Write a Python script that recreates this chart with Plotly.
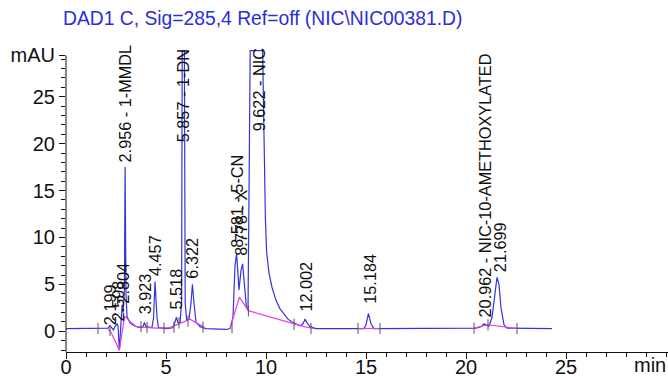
import plotly.graph_objects as go

# ---- data ----
time_min = [0.0, 1.9, 2.1, 2.2, 2.3, 2.37, 2.45, 2.55, 2.6, 2.67, 2.75, 2.8, 2.86, 2.92, 2.956,
            3.0, 3.05, 3.2, 3.4, 3.7, 3.85, 3.92, 4.0, 4.3, 4.38, 4.45, 4.55, 4.62, 5.0,
            5.35, 5.45, 5.52, 5.6, 5.7, 5.78, 5.81, 5.92, 5.96, 6.03, 6.15, 6.25, 6.32,
            6.4, 6.5, 6.7, 7.0, 8.0, 8.2, 8.35, 8.45, 8.53, 8.6, 8.65, 8.75, 8.83, 8.92,
            9.02, 9.1, 9.16, 9.21, 9.83, 9.9, 9.97, 10.03, 10.15, 10.3, 10.5, 10.7, 10.9,
            11.1, 11.3, 11.5, 11.7, 11.85, 11.95, 12.05, 12.2, 12.5, 14.9, 15.0, 15.12,
            15.25, 15.4, 20.5, 20.75, 20.9, 21.0, 21.15, 21.3, 21.45, 21.55, 21.65, 21.75,
            21.9, 22.05, 24.3]
signal_mau = [0.3, 0.3, 0.35, 0.6, 0.3, 0.15, 0.5, 0.8, 0.6, -2.0, 1.0, 2.6, 2.0, 4.5, 17.5,
              4.0, 1.6, 0.9, 0.6, 0.4, 0.5, 0.95, 0.5, 0.4, 1.5, 5.3, 1.5, 0.4, 0.3,
              0.4, 1.0, 1.5, 0.9, 0.9, 3.0, 29.9, 29.9, 3.0, 1.2, 1.3, 3.0, 5.0,
              3.0, 1.0, 0.5, 0.3, 0.2, 0.3, 1.5, 7.0, 8.3, 6.0, 4.4, 6.5, 7.2, 5.0,
              2.6, 2.2, 15.0, 29.9, 29.9, 20.0, 12.0, 8.5, 6.2, 4.7, 3.3, 2.4, 1.8,
              1.3, 1.0, 0.8, 0.6, 0.8, 1.3, 0.9, 0.5, 0.3, 0.3, 0.7, 1.9,
              0.8, 0.3, 0.35, 0.5, 0.8, 0.7, 0.55, 1.5, 4.5, 5.75, 5.0, 2.5,
              0.7, 0.35, 0.3]

baseline_time = [2.1, 2.25, 2.67, 2.93, 3.5, 4.5, 5.2, 6.2, 6.9, None,
                 8.2, 8.67, 9.12, 11.4, 11.9, 12.4, None,
                 14.6, 15.7, None,
                 20.4, 21.1, 22.5]
baseline_mau = [0.3, -0.1, -2.0, 1.6, 0.5, 0.35, 0.4, 1.3, 0.45, None,
                0.3, 3.65, 2.2, 0.75, 0.5, 0.3, None,
                0.3, 0.3, None,
                0.35, 0.7, 0.3]

peak_rt = [2.199, 2.598, 2.804, 2.956, 3.923, 4.457, 5.518, 5.857, 6.322,
           8.581, 8.778, 9.622, 12.002, 15.184, 20.962, 21.699]
peak_name = ["", "", "", "1-MMDL", "", "", "", "1-DN", "",
             "5-CN", "X", "NIC", "", "", "NIC-10-AMETHOXYLATED", ""]
label_mau = [0.6, 1.0, 2.8, 17.9, 1.7, 5.75, 2.2, 20.0, 5.5,
             8.8, 7.9, 21.2, 2.0, 2.8, 1.4, 6.2]

event_time = [1.6, 2.2, 3.75, 4.05, 4.9, 5.4, 5.65, 6.1, 6.85, 8.3, 9.12,
              11.4, 12.25, 14.6, 15.7, 20.4, 21.1, 22.55]
event_mau = [0.3, 0.1, 0.5, 0.4, 0.35, 0.45, 0.9, 1.1, 0.45, 0.4, 2.2,
             0.75, 0.3, 0.3, 0.3, 0.35, 0.7, 0.3]

y_major = [0, 5, 10, 15, 20, 25]
y_top_tick = 29.4
x_major = [0, 5, 10, 15, 20, 25]

FONT = "Liberation Sans, Arial, sans-serif"
BLUE = "#3434dc"
MAGENTA = "#e63ee6"

fig = go.Figure()
fig.add_trace(go.Scatter(x=time_min, y=signal_mau, mode="lines",
                         line=dict(color=BLUE, width=1.2), hoverinfo="skip"))
fig.add_trace(go.Scatter(x=baseline_time, y=baseline_mau, mode="lines",
                         line=dict(color=MAGENTA, width=1.2), connectgaps=False,
                         hoverinfo="skip"))
fig.add_trace(go.Scatter(x=event_time, y=event_mau, mode="markers",
                         marker=dict(symbol="line-ns", size=8,
                                     line=dict(color="#555555", width=1)),
                         hoverinfo="skip"))

for rt, name, ly in zip(peak_rt, peak_name, label_mau):
    txt = f"{rt:.3f}" + (f" - {name}" if name else "")
    fig.add_annotation(x=rt, y=ly, text=txt, textangle=-90, showarrow=False,
                       xanchor="center", yanchor="bottom", borderpad=0,
                       font=dict(family=FONT, size=16.3, color="#111111"))

# axis unit label
fig.add_annotation(x=29.2, y=0, xref="x", yref="paper", text="min", showarrow=False,
                   xanchor="center", yanchor="top", yshift=-1, borderpad=0,
                   font=dict(family=FONT, size=20, color="#111111"))

# y-axis line up to the mAU tick
fig.add_shape(type="line", xref="paper", yref="y", x0=0, x1=0, y0=-2.2, y1=y_top_tick,
              line=dict(color="#111111", width=1))

y_minor = [v for v in range(-2, 30) if v not in y_major]

fig.update_layout(
    width=668, height=380,
    margin=dict(l=66, r=0, t=46, b=28, autoexpand=False),
    paper_bgcolor="white", plot_bgcolor="white",
    showlegend=False,
    title=dict(text="DAD1 C, Sig=285,4 Ref=off (NIC\\NIC00381.D)",
               font=dict(family=FONT, size=19.3, color="#2e2ed6"),
               xref="container", yref="container", x=63 / 668, xanchor="left",
               y=1 - 18 / 380, yanchor="middle"),
    xaxis=dict(range=[0, 30.1], showgrid=False, zeroline=False, automargin=False,
               showline=True, linecolor="#111111", linewidth=1,
               tickmode="array", tickvals=x_major, ticktext=[str(v) for v in x_major],
               ticks="outside", ticklen=6, tickcolor="#111111", tickwidth=1,
               ticklabelstandoff=-9,
               minor=dict(dtick=1, tick0=0, ticks="outside", ticklen=4,
                          tickcolor="#111111", tickwidth=1),
               tickfont=dict(family=FONT, size=20, color="#111111")),
    yaxis=dict(range=[-2.2, 30.4], showgrid=False, zeroline=False, showline=False,
               automargin=False,
               tickmode="array", tickvals=y_major + [y_top_tick],
               ticktext=[str(v) for v in y_major] + ["mAU"],
               ticks="outside", ticklen=6, tickcolor="#111111", tickwidth=1,
               minor=dict(tickmode="array", tickvals=y_minor, ticks="outside", ticklen=4,
                          tickcolor="#111111", tickwidth=1),
               tickfont=dict(family=FONT, size=20, color="#111111")),
)

fig.write_html("out.html")
